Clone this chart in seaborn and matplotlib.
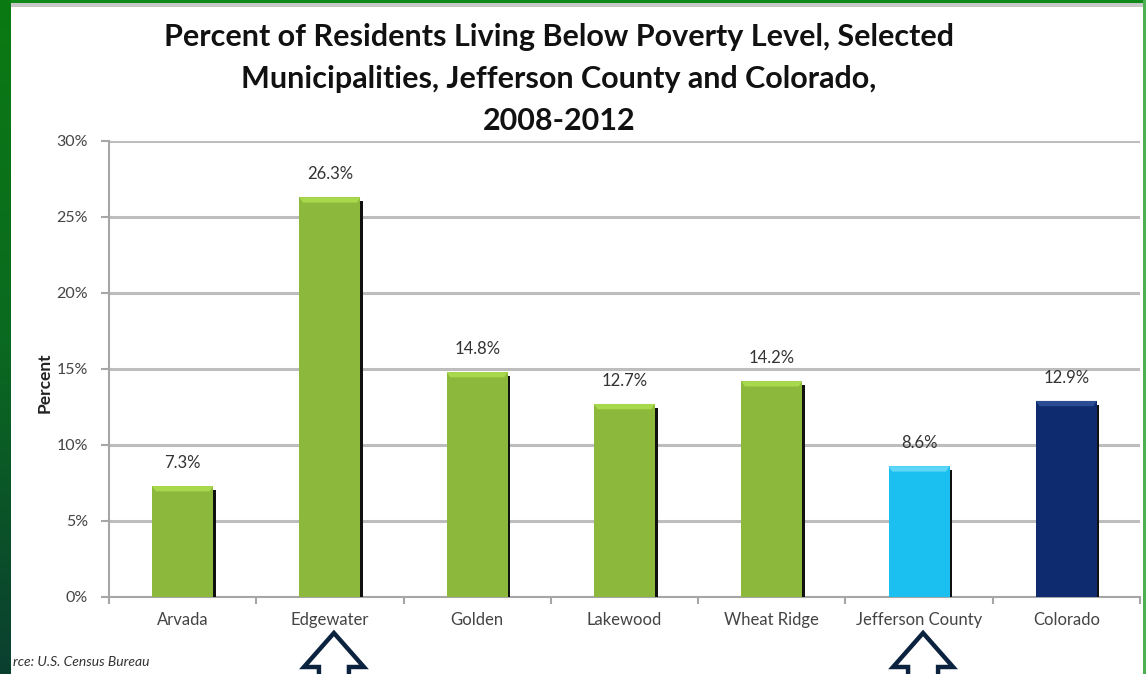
#!/usr/bin/env python3
import numpy as np
import pandas as pd
import matplotlib
matplotlib.use("Agg")
import matplotlib.pyplot as plt
from matplotlib.patches import Polygon, Rectangle
import seaborn as sns

places = ["Arvada", "Edgewater", "Golden", "Lakewood", "Wheat Ridge",
          "Jefferson County", "Colorado"]
poverty_pct = [7.3, 26.3, 14.8, 12.7, 14.2, 8.6, 12.9]
bar_colors = ["#8cb83c", "#8cb83c", "#8cb83c", "#8cb83c", "#8cb83c",
              "#1bbff0", "#0d2b6e"]
top_colors = ["#a8d94c", "#a8d94c", "#a8d94c", "#a8d94c", "#a8d94c",
              "#5fd6f8", "#2a4c92"]
arrow_places = ["Edgewater", "Jefferson County"]

W, H = 1146, 674
sns.set_theme(style="white")
plt.rcParams["font.family"] = ["Lato", "DejaVu Sans"]

fig = plt.figure(figsize=(W / 100, H / 100), dpi=100)
fig.patch.set_facecolor("white")


def px(x0, y0, x1, y1):
    # pixel box (top-left origin) -> figure fraction rect
    return [x0 / W, 1 - y1 / H, (x1 - x0) / W, (y1 - y0) / H]


ax = fig.add_axes(px(109, 141, 1140, 597))

df = pd.DataFrame({"place": places, "pct": poverty_pct})
sns.barplot(data=df, x="place", y="pct", hue="place", order=places,
            palette=dict(zip(places, bar_colors)), legend=False,
            width=0.415, saturation=1, ax=ax, zorder=3, linewidth=0)

ax.set_xlim(-0.5, len(places) - 0.5)
ax.set_ylim(0, 30)
ax.set_yticks(np.arange(0, 31, 5))
ax.set_yticklabels([f"{v}%" for v in range(0, 31, 5)])
ax.yaxis.grid(True, color="#bdbdbd", linewidth=2.2)
ax.set_axisbelow(True)

for s in ["top", "right"]:
    ax.spines[s].set_visible(False)
for s in ["left", "bottom"]:
    ax.spines[s].set_color("#a6a6a6")
    ax.spines[s].set_linewidth(1.5)

ax.tick_params(axis="y", length=6, width=1.5, color="#a6a6a6", direction="out",
               labelsize=11.5, labelcolor="#444444", pad=9, left=True)
ax.tick_params(axis="x", length=0, labelsize=12, labelcolor="#444444", pad=11)
ax.set_xticks(np.arange(-0.5, len(places), 1.0), minor=True)
ax.tick_params(axis="x", which="minor", length=5, width=1.5, color="#a6a6a6",
               direction="out", bottom=True)
ax.set_xlabel("")
ax.set_ylabel("Percent", fontsize=12.5, fontweight="bold", color="#222222")
ax.yaxis.set_label_coords(-0.055, 0.47)

# fake 3D look: right-hand shadow and light top bevel
for patch, val, tc in zip(ax.patches, poverty_pct, top_colors):
    x0 = patch.get_x()
    w = patch.get_width()
    top = patch.get_height()
    sw = 0.022
    ax.add_patch(Rectangle((x0 + w - 0.005, 0), sw, top - 0.25,
                           color="#111111", zorder=2.9, lw=0))
    bev = 0.35
    ax.add_patch(Polygon([(x0, top), (x0 + w, top), (x0 + w - 0.025, top - bev),
                          (x0 + 0.025, top - bev)], closed=True,
                         color=tc, zorder=3.1, lw=0))
    ax.text(x0 + w / 2, top + 1.0, f"{val}%", ha="center", va="bottom",
            fontsize=12, color="#333333", zorder=4)

# title
fig.text(559 / W, 1 - 79 / H,
         "Percent of Residents Living Below Poverty Level, Selected\n"
         "Municipalities, Jefferson County and Colorado,\n2008-2012",
         ha="center", va="center", fontsize=22, fontweight="bold",
         color="#111111", linespacing=1.62)

# source note (start of the word is cropped in the original slide)
fig.text(13 / W, 1 - 662 / H, "rce: U.S. Census Bureau", ha="left",
         va="center", fontsize=10, style="italic", color="#333333")

# frame decoration
strip = fig.add_axes(px(0, 0, 11, H), zorder=5)
grad = np.linspace(0, 1, 256).reshape(-1, 1)
cmap = matplotlib.colors.LinearSegmentedColormap.from_list(
    "g", ["#0b7a12", "#0a6a20", "#0b3f30"])
strip.imshow(grad, aspect="auto", cmap=cmap, extent=[0, 1, 0, 1], origin="upper")
strip.set_axis_off()
fig.add_artist(Rectangle((0, 1 - 3 / H), 1, 3 / H, transform=fig.transFigure,
                         color="#0f8a1a", lw=0, zorder=4))
fig.add_artist(Rectangle((0, 1 - 7 / H), 1, 4 / H, transform=fig.transFigure,
                         color="#c8c8c8", lw=0, zorder=3))
fig.add_artist(Rectangle((1 - 3 / W, 0), 3 / W, 1, transform=fig.transFigure,
                         color="#4caf50", lw=0, zorder=4))

# outlined up arrows under highlighted places
for name in arrow_places:
    cx = ax.transData.transform((places.index(name), 0))[0] + 4
    pts = [(-15, 690), (-15, 667), (-30, 667), (0, 633), (30, 667),
           (15, 667), (15, 690)]
    poly = [((cx + dx) / W, 1 - py / H) for dx, py in pts]
    fig.add_artist(Polygon(poly, closed=True, transform=fig.transFigure,
                           facecolor="white", edgecolor="#0c2340", lw=3.2,
                           joinstyle="miter", zorder=6))

fig.savefig("out.png", dpi=100)
